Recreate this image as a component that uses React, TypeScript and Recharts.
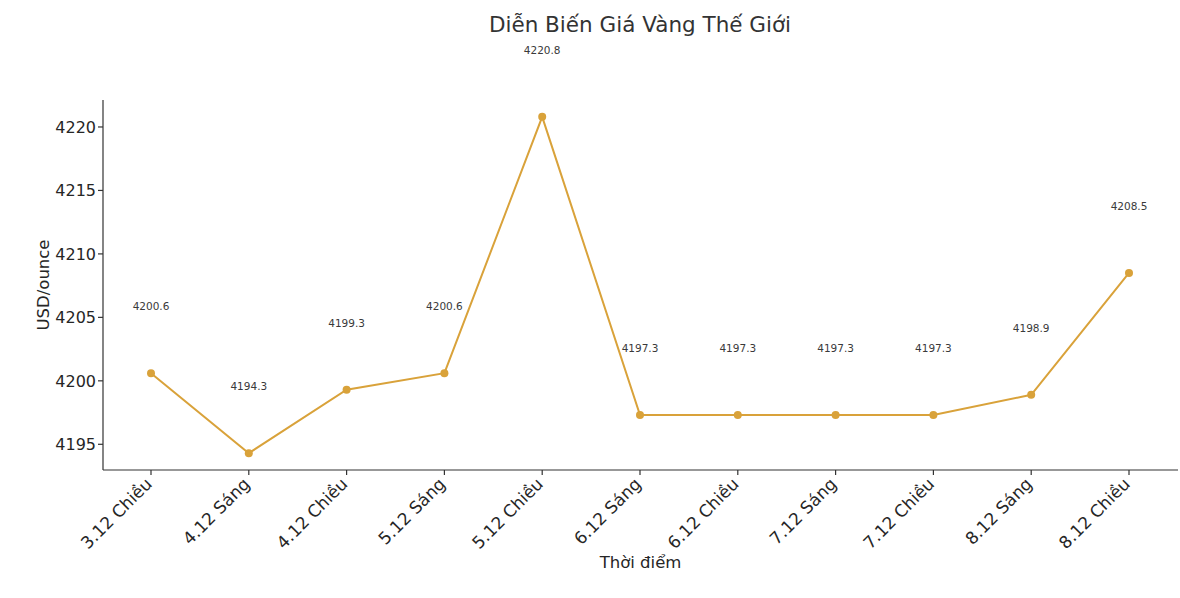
import React from 'react';
import { LineChart, Line, XAxis, YAxis, LabelList, Label } from 'recharts';

const TIME_LABELS = [
  '3.12 Chiều',
  '4.12 Sáng',
  '4.12 Chiều',
  '5.12 Sáng',
  '5.12 Chiều',
  '6.12 Sáng',
  '6.12 Chiều',
  '7.12 Sáng',
  '7.12 Chiều',
  '8.12 Sáng',
  '8.12 Chiều'
];

const GOLD_PRICES = [4200.6, 4194.3, 4199.3, 4200.6, 4220.8, 4197.3, 4197.3, 4197.3, 4197.3, 4198.9, 4208.5];

const Y_TICKS = [4195, 4200, 4205, 4210, 4215, 4220];

const GOLD = '#D9A23A';
const INK = '#262626';
const FONT = '"DejaVu Sans", sans-serif';

const data = TIME_LABELS.map((time, i) => ({ time, price: GOLD_PRICES[i] }));

const RotatedTick = ({ x, y, payload }: any) => (
  <g transform={`translate(${x - 7},${y - 1})`}>
    <text
      transform="rotate(-45)"
      textAnchor="end"
      dy="0.75em"
      fill={INK}
      fontSize={17}
      fontFamily={FONT}
    >
      {payload.value}
    </text>
  </g>
);

const PriceLabel = ({ x, y, value }: any) => (
  <text
    x={x}
    y={y - 63}
    textAnchor="middle"
    fill="#3a3a3a"
    fontSize={10.5}
    fontFamily={FONT}
  >
    {value.toFixed(1)}
  </text>
);

const App: React.FC = () => {
  return (
    <div style={{ position: 'absolute', left: 0, top: 0, width: 1180, height: 598, background: '#fff' }}>
      <svg
        width={1180}
        height={40}
        style={{ position: 'absolute', left: 0, top: 0 }}
      >
        <text
          x={640}
          y={32}
          textAnchor="middle"
          fill="#333"
          fontSize={21.5}
          fontFamily={FONT}
        >
          Diễn Biến Giá Vàng Thế Giới
        </text>
      </svg>
      <LineChart
        width={1180}
        height={598}
        data={data}
        margin={{ top: 100, right: 2, bottom: 0, left: 0 }}
        style={{ overflow: 'visible' }}
      >
        <XAxis
          dataKey="time"
          height={128}
          padding={{ left: 48, right: 49 }}
          interval={0}
          tick={<RotatedTick />}
          tickSize={5}
          stroke="#333"
          strokeWidth={1.2}
        >
          <Label
            value="Thời điểm"
            position="insideBottom"
            offset={30}
            fill={INK}
            fontSize={16.5}
            fontFamily={FONT}
          />
        </XAxis>
        <YAxis
          width={103}
          domain={[4192.975, 4222.125]}
          ticks={Y_TICKS}
          allowDataOverflow
          tickSize={5}
          tickMargin={2}
          stroke="#333"
          strokeWidth={1.2}
          tick={{ fill: INK, fontSize: 16, fontFamily: FONT }}
        >
          <Label
            value="USD/ounce"
            angle={-90}
            position="insideLeft"
            offset={43}
            style={{ textAnchor: 'middle' }}
            fill={INK}
            fontSize={16.5}
            fontFamily={FONT}
          />
        </YAxis>
        <Line
          type="linear"
          dataKey="price"
          stroke={GOLD}
          strokeWidth={2}
          dot={{ r: 4, fill: GOLD, stroke: GOLD, strokeWidth: 0 }}
          activeDot={false}
          isAnimationActive={false}
        >
          <LabelList dataKey="price" content={<PriceLabel />} />
        </Line>
      </LineChart>
    </div>
  );
};

export default App;
